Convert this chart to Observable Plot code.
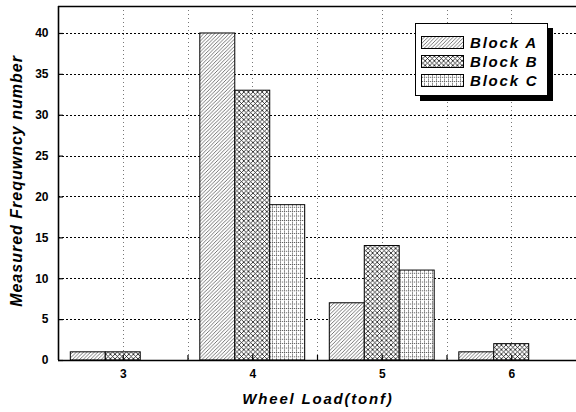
<!DOCTYPE html>
<html><head><meta charset="utf-8">
<script src="https://cdn.jsdelivr.net/npm/d3@7"></script>
<script src="https://cdn.jsdelivr.net/npm/@observablehq/plot@0.6"></script>
<style>
body{margin:0;background:#fff;}
#wrap{position:relative;width:576px;height:412px;overflow:hidden;font-family:"Liberation Sans",Arial,sans-serif;background:#fff;}
.ttl{position:absolute;font-weight:bold;font-style:italic;color:#000;white-space:nowrap;}
#legend{position:absolute;left:415px;top:23px;width:131px;height:71px;border:1px solid #000;background:#fff;box-shadow:5px 5px 0 #000;}
</style></head><body><div id="wrap"></div>
<script>
const loads = [3, 4, 5, 6];
const seriesNames = ["Block A", "Block B", "Block C"];
const blockA = [1, 40, 7, 1];
const blockB = [1, 33, 14, 2];
const blockC = [0, 19, 11, 0];
const yTicks = [0, 5, 10, 15, 20, 25, 30, 35, 40];
const xTicks = [3, 4, 5, 6];
const xMinorTicks = [3.5, 4.5, 5.5];
const xDomain = [2.5, 6.5];
const yDomain = [0, 43.3];
const xTitle = "Wheel Load(tonf)";
const yTitle = "Measured Frequwncy number";

const patternIds = ["hA", "hB", "hC"];
const barW = 0.27;
const rows = loads.flatMap((l, i) => [blockA, blockB, blockC].map((vals, j) => ({load: l, series: seriesNames[j], idx: j, value: vals[i]}))).filter(d => d.value > 0);

const W = 576, H = 412, mL = 58, mR = 0, mT = 6, mB = 52;
const fw = W - mL - mR, fh = H - mT - mB;

const barMarks = seriesNames.map((s, j) => Plot.rectY(rows.filter(d => d.series === s), {
  x1: d => d.load + (d.idx - 1.5) * barW,
  x2: d => d.load + (d.idx - 0.5) * barW,
  y1: 0, y2: "value",
  fill: `url(#${patternIds[j]})`, stroke: "#000", strokeWidth: 1
}));

const chart = Plot.plot({
  width: W, height: H,
  marginLeft: mL, marginRight: mR, marginTop: mT, marginBottom: mB,
  x: {domain: xDomain},
  y: {domain: yDomain},
  style: {background: "#fff", fontFamily: "Liberation Sans, Arial, sans-serif", color: "#000"},
  marks: [
    Plot.ruleX([...xTicks, ...xMinorTicks], {x: d => d, stroke: "#777", strokeDasharray: "1,3", strokeWidth: 1, shapeRendering: "crispEdges"}),
    Plot.ruleY(yTicks.filter(v => v > 0), {y: d => d, stroke: "#000", strokeDasharray: "2,2", strokeWidth: 1, shapeRendering: "crispEdges"}),
    ...barMarks,
    Plot.tickX([...xTicks, ...xMinorTicks], {x: d => d, insetTop: fh - 5, stroke: "#000", strokeWidth: 1.2}),
    Plot.tickY(yTicks, {y: d => d, insetRight: fw - 5, stroke: "#000", strokeWidth: 1.2}),
    Plot.ruleY([yDomain[0]], {stroke: "#000", strokeWidth: 1.6}),
    Plot.ruleY([yDomain[1]], {stroke: "#000", strokeWidth: 1.6}),
    Plot.ruleX([xDomain[0]], {stroke: "#000", strokeWidth: 1.6}),
    Plot.axisY({ticks: yTicks, tickSize: 0, tickPadding: 10, label: null, fontSize: 12, fontWeight: "bold", fill: "#000", tickFormat: d => String(d)}),
    Plot.axisX({ticks: xTicks, tickSize: 0, tickPadding: 9, label: null, fontSize: 12, fontWeight: "bold", fill: "#000", tickFormat: d => String(d)})
  ]
});

const ns = "http://www.w3.org/2000/svg";
const defs = document.createElementNS(ns, "defs");
defs.innerHTML = `
<pattern id="hA" patternUnits="userSpaceOnUse" width="3.6" height="3.6">
  <rect width="3.6" height="3.6" fill="#fff"/>
  <path d="M-0.9,0.9 L0.9,-0.9 M0,3.6 L3.6,0 M2.7,4.5 L4.5,2.7" stroke="#555" stroke-width="0.8"/>
</pattern>
<pattern id="hB" patternUnits="userSpaceOnUse" width="4.6" height="4.6">
  <rect width="4.6" height="4.6" fill="#fff"/>
  <path d="M0,0 L4.6,4.6 M4.6,0 L0,4.6" stroke="#111" stroke-width="0.8"/>
</pattern>
<pattern id="hC" patternUnits="userSpaceOnUse" width="4" height="4.4">
  <rect width="4" height="4.4" fill="#fff"/>
  <path d="M0.5,0 L0.5,4.4 M0,0.5 L4,0.5" stroke="#555" stroke-width="0.9" stroke-dasharray="1.2,0.8"/>
</pattern>`;
chart.prepend(defs);

const wrap = document.getElementById("wrap");
wrap.appendChild(chart);

const xt = document.createElement("div");
xt.className = "ttl";
xt.textContent = xTitle;
xt.style.cssText += "font-size:15px;letter-spacing:1.8px;left:318px;top:398px;transform:translate(-50%,-50%);";
wrap.appendChild(xt);

const yt = document.createElement("div");
yt.className = "ttl";
yt.textContent = yTitle;
yt.style.cssText += "font-size:16px;letter-spacing:1px;left:17px;top:181px;transform:translate(-50%,-50%) rotate(-90deg);";
wrap.appendChild(yt);

const leg = document.createElement("div");
leg.id = "legend";
const lsvg = document.createElementNS(ns, "svg");
lsvg.setAttribute("width", 131);
lsvg.setAttribute("height", 71);
lsvg.style.position = "absolute";
lsvg.style.left = "0"; lsvg.style.top = "0";
seriesNames.forEach((s, j) => {
  const cy = 19 + j * 19;
  const r = document.createElementNS(ns, "rect");
  r.setAttribute("x", 5.5); r.setAttribute("y", cy - 6.5);
  r.setAttribute("width", 42); r.setAttribute("height", 12);
  r.setAttribute("fill", `url(#${patternIds[j]})`);
  r.setAttribute("stroke", "#000"); r.setAttribute("stroke-width", 1);
  lsvg.appendChild(r);
  const t = document.createElementNS(ns, "text");
  t.setAttribute("x", 54); t.setAttribute("y", cy);
  t.setAttribute("dy", "0.36em");
  t.setAttribute("font-size", 15);
  t.setAttribute("font-weight", "bold");
  t.setAttribute("font-style", "italic");
  t.setAttribute("letter-spacing", "1.8");
  t.setAttribute("font-family", "Liberation Sans, Arial, sans-serif");
  t.textContent = s;
  lsvg.appendChild(t);
});
leg.appendChild(lsvg);
wrap.appendChild(leg);
</script>
</body></html>
